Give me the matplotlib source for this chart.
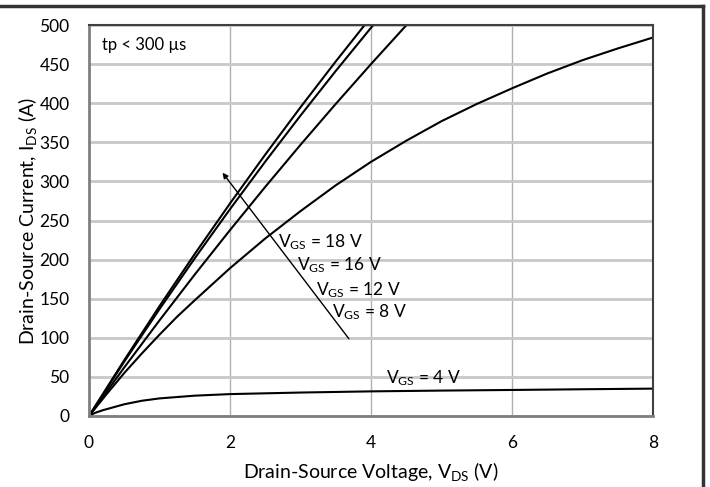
import matplotlib.pyplot as plt
from matplotlib.lines import Line2D

plt.rcParams['font.family'] = ['Lato', 'DejaVu Sans']
plt.rcParams['mathtext.fontset'] = 'custom'
plt.rcParams['mathtext.rm'] = 'Lato'

# output curves, drain-source voltage (V) vs current (A)
v18 = [0, 0.5, 1, 1.5, 2, 2.5, 3, 3.5, 4]
i18 = [0, 71.4, 140.5, 207.2, 271.8, 334.3, 394.8, 453.4, 510.2]

v16 = [0, 0.5, 1, 1.5, 2, 2.5, 3, 3.5, 4, 4.5]
i16 = [0, 69.5, 136.7, 201.7, 264.5, 325.3, 384.2, 441.2, 496.5, 550]

v12 = [0, 0.5, 1, 1.5, 2, 2.5, 3, 3.5, 4, 4.5, 5]
i12 = [0, 62.1, 122.3, 180.9, 237.7, 293.0, 346.8, 399.1, 450, 499.6, 547.8]

v8 = [0, 0.25, 0.5, 0.75, 1, 1.25, 1.5, 2, 2.5, 3, 3.5, 4, 4.5, 5, 5.5, 6, 6.5, 7, 7.5, 8]
i8 = [0, 28, 55, 80, 104, 127, 148, 189, 227, 262, 295, 325, 352, 377, 399, 419, 438, 455, 470, 484]

v4 = [0, 0.05, 0.1, 0.2, 0.3, 0.5, 0.75, 1, 1.5, 2, 3, 4, 5, 6, 7, 8]
i4 = [0, 2.5, 4.5, 7.5, 10, 15, 19.5, 22.5, 26, 28, 30, 31.5, 32.5, 33.3, 34.2, 35]

curve_labels = ['18 V', '16 V', '12 V', '8 V']
label_pos = [(2.68, 222), (2.95, 193), (3.22, 161), (3.45, 133)]

fig = plt.figure(figsize=(7.1, 4.87), dpi=100)
ax = fig.add_axes([89/710, 1-416/487, 564/710, 391/487])

for v, i in [(v18, i18), (v16, i16), (v12, i12), (v8, i8), (v4, i4)]:
    ax.plot(v, i, color='black', lw=1.5)

ax.set_xlim(0, 8)
ax.set_ylim(0, 500)
ax.set_xticks([0, 2, 4, 6, 8])
ax.set_yticks(range(0, 501, 50))
ax.yaxis.grid(True, color='#c8c8c8', lw=2)
ax.xaxis.grid(True, color='#b0b0b0', lw=1)
ax.set_axisbelow(True)
ax.tick_params(length=0, labelsize=12.5, colors='black')
ax.tick_params(axis='x', pad=14)
ax.tick_params(axis='y', pad=14)
for side in ['left', 'bottom']:
    ax.spines[side].set_color('#7f7f7f')
    ax.spines[side].set_linewidth(2)
for side in ['top', 'right']:
    ax.spines[side].set_color('#404040')
    ax.spines[side].set_linewidth(1.5)

ax.set_xlabel(r'Drain-Source Voltage, $\mathregular{V_{DS}}$ (V)', fontsize=14)
ax.xaxis.set_label_coords(0.5, -0.112)
ax.set_ylabel(r'Drain-Source Current, $\mathregular{I_{DS}}$ (A)', fontsize=14)
ax.yaxis.set_label_coords(-0.088, 0.5)

ax.text(0.19, 474, 'tp < 300 µs', fontsize=12, va='center', ha='left')

for lab, (x, y) in zip(curve_labels, label_pos):
    ax.text(x, y, r'$\mathregular{V_{GS}}$ = ' + lab, fontsize=12.5, va='center', ha='left')
ax.text(4.21, 48, r'$\mathregular{V_{GS}}$ = 4 V', fontsize=12.5, va='center', ha='left')

ax.annotate('', xy=(1.87, 314), xytext=(3.71, 96),
            arrowprops=dict(arrowstyle='-|>', color='black', lw=1, mutation_scale=8))

# outer frame (top and right edges visible)
fig.add_artist(Line2D([0, 703/710], [1-6/487, 1-6/487], color='#333333', lw=2.5))
fig.add_artist(Line2D([703/710, 703/710], [0, 1-6/487], color='#333333', lw=2.5))

fig.savefig('out.png', dpi=100)
